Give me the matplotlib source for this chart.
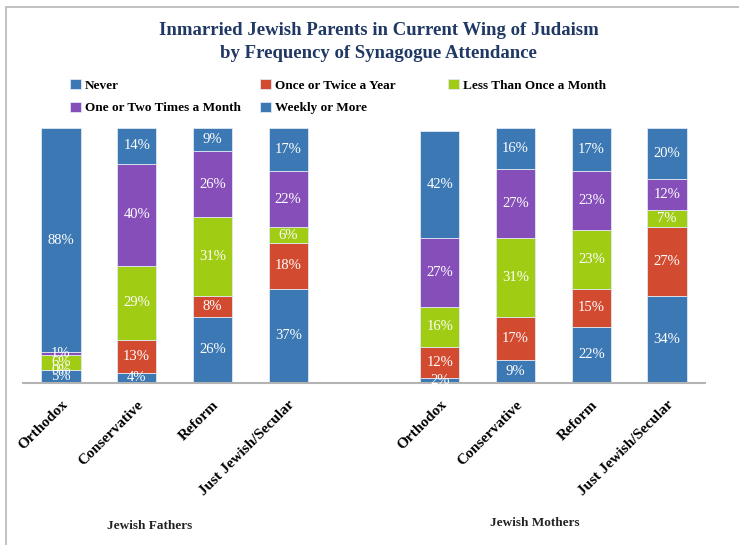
import numpy as np
import matplotlib
matplotlib.use("Agg")
import matplotlib.pyplot as plt
from matplotlib.patches import Rectangle

# Share of inmarried parents (%) by wing; first four are fathers, last four mothers
wings = ["Orthodox", "Conservative", "Reform", "Just Jewish/Secular"]
groups = ["Jewish Fathers", "Jewish Mothers"]
series = ["Never", "Once or Twice a Year", "Less Than Once a Month",
          "One or Two Times a Month", "Weekly or More"]

never = [5, 4, 26, 37, 2, 9, 22, 34]
once_twice_year = [0, 13, 8, 18, 12, 17, 15, 27]
less_than_monthly = [6, 29, 31, 6, 16, 31, 23, 7]
one_two_monthly = [1, 40, 26, 22, 27, 27, 23, 12]
weekly = [88, 14, 9, 17, 42, 16, 17, 20]

colors = ["#3b78b4", "#d24b30", "#a0cc14", "#864eb8", "#3b78b4"]

plt.rcParams["font.family"] = ["Liberation Serif", "DejaVu Serif"]

fig = plt.figure(figsize=(7.39, 5.45), dpi=100)
ax = fig.add_axes([23 / 739, 1 - 383 / 545, (705 - 23) / 739, (383 - 128) / 545])

# fathers at slots 0-3, mothers at 5-8, one empty slot between
x = np.array([0, 1, 2, 3, 5, 6, 7, 8])
bottom = np.zeros(len(x))
for name, vals, col in zip(series,
                           [never, once_twice_year, less_than_monthly, one_two_monthly, weekly],
                           colors):
    vals = np.array(vals, dtype=float)
    ax.bar(x, vals, 0.52, bottom=bottom, color=col, edgecolor="#dfe8f3",
           linewidth=0.6, label=name)
    for xi, b, v in zip(x, bottom, vals):
        ax.text(xi, b + v / 2, f"{int(v)}%", ha="center", va="center",
                color="white", fontsize=10.5)
    bottom += vals

ax.set_xlim(-0.5, 8.5)
ax.set_ylim(0, 100)
ax.set_yticks([])
for side in ["left", "right", "top"]:
    ax.spines[side].set_visible(False)
ax.spines["bottom"].set_color("#b3b3b3")
ax.spines["bottom"].set_linewidth(1.5)
ax.set_xticks(x)
ax.set_xticklabels(wings * 2, rotation=45, ha="right", rotation_mode="anchor",
                   fontsize=11, fontweight="bold")
ax.tick_params(axis="x", length=0, pad=11)

fig.text(150 / 739, 1 - 526 / 545, groups[0], ha="center", va="center",
         fontsize=9.5, fontweight="bold", color="#222222")
fig.text(535 / 739, 1 - 523 / 545, groups[1], ha="center", va="center",
         fontsize=9.5, fontweight="bold", color="#222222")

fig.text(378.5 / 739, 1 - 42 / 545,
         "Inmarried Jewish Parents in Current Wing of Judaism\nby Frequency of Synagogue Attendance",
         ha="center", va="center", fontsize=13.5, fontweight="bold", color="#1f3864",
         linespacing=1.45)

# legend as three evenly spaced columns, reading across rows
handles, labels = ax.get_legend_handles_labels()
legend_cols = [[0, 3], [1, 4], [2]]
col_x = [70, 260, 448]
for idx, cx in zip(legend_cols, col_x):
    leg = fig.legend([handles[i] for i in idx], [labels[i] for i in idx],
                     loc="upper left", bbox_to_anchor=(cx / 739, 1 - 79 / 545),
                     frameon=False, borderpad=0, borderaxespad=0,
                     prop={"weight": "bold", "size": 9.5}, handlelength=0.8,
                     handleheight=0.8, handletextpad=0.3, labelspacing=0.75)

# thin frame round the chart
fig.patches.append(Rectangle((6 / 739, -0.05), 1.1, 1 - 7 / 545 + 0.05,
                             transform=fig.transFigure, fill=False,
                             edgecolor="#b8b8b8", linewidth=1.2))

fig.savefig("out.png", dpi=100)
